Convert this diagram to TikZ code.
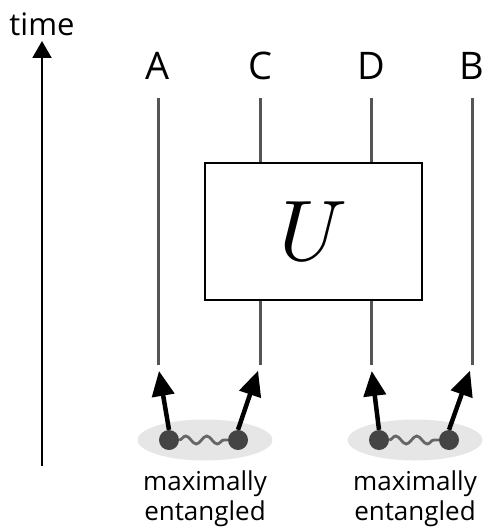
\documentclass[tikz,border=0pt]{standalone}
\usepackage{fontspec}
\usepackage{graphicx}
\setmainfont{Open Sans}
\usetikzlibrary{arrows.meta,decorations.pathmorphing,shapes.geometric}
\definecolor{wire}{HTML}{555555}
\definecolor{dotc}{HTML}{444444}
\definecolor{blob}{HTML}{E6E6E6}
\definecolor{wavec}{HTML}{666666}
\tikzset{
  wirestyle/.style={draw=wire, line width=3pt},
  lab/.style={font=\fontsize{38}{40}\selectfont, inner sep=0pt},
  qdot/.style={circle, fill=dotc, minimum size=20pt, inner sep=0pt},
  feed/.style={line width=4.5pt, -{Triangle[length=25pt,width=22pt]}, shorten >=6pt},
  caption/.style={font=\fontsize{26}{30}\selectfont, align=center, inner sep=0pt},
  wave/.style={draw=wavec, line width=2.8pt, decorate, decoration={snake, amplitude=4pt, segment length=21pt}}
}
\begin{document}
\begin{tikzpicture}[x=1pt,y=-1pt]
\useasboundingbox (0,0) rectangle (483,527);
% time arrow
\node[font=\fontsize{31}{34}\selectfont, inner sep=0pt] (time) at (42,24) {time};
\coordinate (tbot) at (42,466);
\coordinate (ttop) at (42,41);
\draw[line width=2.2pt, -{Triangle[length=17pt,width=19pt]}] (tbot) -- (ttop);
% labels
\node[lab] (A) at (158,66) {A};
\node[lab] (C) at (260,66) {C};
\node[lab] (D) at (371,66) {D};
\node[lab] (B) at (472,66) {B};
% box
\node[draw, line width=2pt, minimum width=217pt, minimum height=137pt, inner sep=0pt] (U) at (313.5,231.5) {\scalebox{8.6}{$U$}};
% wire ends
\coordinate (Aa) at (158,98); \coordinate (Ab) at (158,365);
\coordinate (Ca) at (260,98); \coordinate (Cb) at (260,365);
\coordinate (Da) at (371,98); \coordinate (Db) at (371,365);
\coordinate (Ba) at (472,98); \coordinate (Bb) at (472,365);
\draw[wirestyle] (Aa) -- (Ab);
\draw[wirestyle] (Ba) -- (Bb);
\draw[wirestyle] (Ca) -- (Ca |- U.north);
\draw[wirestyle] (Cb |- U.south) -- (Cb);
\draw[wirestyle] (Da) -- (Da |- U.north);
\draw[wirestyle] (Db |- U.south) -- (Db);
% pairs
\node[ellipse, fill=blob, minimum width=135pt, minimum height=41pt, inner sep=0pt] (e1) at (205,440) {};
\node[ellipse, fill=blob, minimum width=135pt, minimum height=41pt, inner sep=0pt] (e2) at (415,440) {};
\node[qdot] (p1) at (169,440) {};
\node[qdot] (p2) at (238,440) {};
\node[qdot] (p3) at (379,440) {};
\node[qdot] (p4) at (449,440) {};
\draw[wave] (p1.east) -- (p2.west);
\draw[wave] (p3.east) -- (p4.west);
\draw[feed] (p1.north) -- (Ab);
\draw[feed] (p2.north) -- (Cb);
\draw[feed] (p3.north) -- (Db);
\draw[feed] (p4.north) -- (Bb);
\node[caption] (c1) at (205,499) {maximally\\entangled};
\node[caption] (c2) at (415,499) {maximally\\entangled};
\end{tikzpicture}
\end{document}
